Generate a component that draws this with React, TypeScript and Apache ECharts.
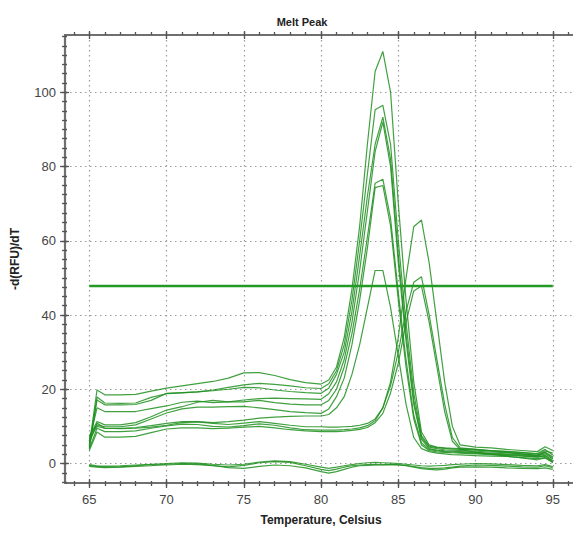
import React, { useEffect, useRef } from "react";
import * as echarts from "echarts";

// ---- data ----
const temps = [65, 65.5, 66, 67, 68, 69, 70, 71, 72, 73, 74, 75, 76, 77, 78, 79, 80, 80.5, 81, 81.5, 82, 82.5, 83, 83.5, 84, 84.5, 85, 85.5, 86, 86.5, 87, 87.5, 88, 88.5, 89, 90, 91, 92, 93, 94, 94.5, 95];

const well1 = [5, 19.8, 18.5, 18.5, 18.6, 19.5, 20.3, 20.9, 21.5, 22.1, 23, 24.4, 24.5, 23.7, 22.6, 21.8, 21.4, 22.5, 26, 34, 47, 64, 86, 105.6, 111, 100, 70, 44, 22, 8.5, 5, 4.4, 4.2, 4.1, 4, 3.8, 3.5, 3.3, 3, 2.7, 3.8, 2.3];
const well2 = [4.5, 17.9, 16.3, 16.2, 16.3, 17.8, 18.8, 19, 19.3, 19.8, 20.5, 21.2, 21.6, 21.3, 20.9, 20.4, 20.2, 21.5, 25, 32, 44, 60, 78, 95.3, 96.5, 86, 60, 38, 19, 7.5, 4.7, 4.3, 4.1, 3.9, 3.8, 3.6, 3.4, 3.2, 2.9, 2.5, 3.4, 2.8];
const well3 = [4, 17.1, 15.8, 15.8, 15.9, 17, 18.9, 19.1, 19.3, 19.6, 20, 20.5, 20.4, 19.8, 19.4, 19.1, 18.9, 20.3, 24, 30, 41, 56, 72, 86, 93.3, 82, 56, 35, 17, 7, 4.4, 4, 3.7, 3.6, 3.5, 3.3, 3.1, 2.9, 2.6, 2.2, 3, 1.5];
const well4 = [6, 15, 14, 14, 14, 14.8, 15.5, 16.5, 16.8, 16.4, 16.6, 17.1, 17.5, 17.6, 17.5, 17.4, 17.3, 18.8, 22, 28, 38, 52, 68, 84, 92, 80, 54, 33, 16, 6.5, 4, 3.6, 3.4, 3.3, 3.2, 3, 2.8, 2.6, 2.3, 2, 2.6, 1.2];
const well5 = [7, 11.3, 10.4, 10.4, 11, 12.6, 14.4, 15.3, 16.5, 17, 16.6, 16.6, 17, 16.4, 16, 15.8, 15.8, 17, 20, 26, 35, 47, 61, 75.5, 76.6, 66, 46, 28, 13, 5.5, 3.8, 3.4, 3.2, 3.1, 3, 2.8, 2.6, 2.4, 2.1, 1.8, 2.2, 0.8];
const well6 = [7.5, 10.4, 9.9, 9.9, 10.4, 12, 13.6, 14.7, 15.2, 15.2, 15.3, 15.4, 15, 14.5, 14, 13.7, 13.5, 14.7, 18, 23, 32, 44, 58, 74.3, 74.9, 64, 44, 26, 12, 5, 3.5, 3.1, 3, 2.9, 2.8, 2.6, 2.4, 2.2, 2, 1.7, 2, 0.5];
const well7 = [5.5, 10.9, 9.5, 9.5, 9.7, 10.2, 10.8, 11.3, 11.3, 11, 11.3, 11.7, 12.2, 12.5, 12.7, 12.8, 12.8, 13.2, 15, 18, 24, 32, 42, 52, 52, 42, 29, 16, 7, 4, 3.2, 2.8, 2.6, 2.4, 2.3, 2.1, 2, 1.9, 1.6, 1.3, 1.6, 0.2];
const well8 = [6.5, 10, 9.5, 9.4, 9.5, 9.8, 10.3, 11, 11.2, 10.8, 10.5, 10.9, 11.3, 10.8, 10.3, 9.9, 9.9, 9.8, 9.8, 9.9, 10, 10.3, 10.8, 12, 15, 22, 34, 50, 63.8, 65.6, 54, 38, 22, 10, 5, 4.4, 4.2, 3.8, 3.5, 3.2, 4.5, 3.5];
const well9 = [4, 9.5, 8.6, 8.6, 8.8, 9.5, 10.1, 10.6, 10.5, 10, 9.8, 10.2, 10.7, 10.3, 9.6, 9.1, 9, 9, 9, 9.1, 9.3, 9.6, 10.2, 11.5, 15, 21, 30, 41, 48.8, 50.3, 40, 28, 16, 7, 4.2, 3.8, 3.4, 3, 2.6, 2.2, 3, 1.8];
const well10 = [3.5, 8.5, 7.1, 7.1, 7.3, 8.3, 9.3, 9.6, 9.6, 9.4, 9.5, 9.8, 10, 9.6, 9.1, 8.8, 8.6, 8.6, 8.6, 8.7, 8.9, 9.2, 9.7, 11, 13.5, 19, 27, 38, 46.5, 47.8, 38, 26, 14, 6, 3.8, 3, 2.5, 2, 1.5, 1, 1.5, 0.5];
const blank1 = [-0.5, -0.8, -0.9, -0.9, -0.6, -0.3, -0.4, -0.2, -0.3, -0.6, -0.9, -0.5, 0.2, 0.5, 0.3, -0.6, -1.6, -1.9, -1.5, -1, -0.6, -0.4, -0.3, -0.3, -0.4, -0.3, -0.3, -0.5, -0.8, -1.1, -1.3, -1.3, -1.2, -1, -0.7, -0.4, -0.5, -0.7, -0.9, -1, -0.6, -1.1];
const blank2 = [-0.8, -1, -1.1, -1, -0.8, -0.6, -0.2, 0, -0.1, -0.5, -1.1, -1.3, -0.8, -0.4, -0.6, -1.2, -2.2, -2.6, -2.2, -1.6, -1, -0.6, -0.5, -0.4, -0.3, -0.3, -0.4, -0.6, -1, -1.4, -1.6, -1.7, -1.5, -1.2, -1, -0.9, -1, -1.2, -1.3, -1.4, -1.2, -1.6];
const blank3 = [-0.3, -0.6, -0.7, -0.6, -0.4, -0.2, 0, 0.2, 0.1, -0.2, -0.4, -0.2, 0.4, 0.7, 0.5, -0.2, -1, -1.3, -1, -0.6, -0.3, 0, 0.2, 0.3, 0.2, 0.1, 0, -0.2, -0.4, -0.6, -0.7, -0.6, -0.5, -0.3, -0.2, 0, -0.1, -0.3, -0.5, -0.6, -0.3, -0.8];

const wells = [well1, well2, well3, well4, well5, well6, well7, well8, well9, well10, blank1, blank2, blank3];
const thresholdTemps = [65, 95];
const thresholdValue = 47.8;

const xTicks = { min: 65, max: 95, step: 5 };
const yTicks = { min: 0, max: 100, step: 20 };

// ---- layout ----
const W = 573;
const H = 534;
const AX_LEFT = 65;      // left axis line
const AX_TOP = 35;       // top axis line
const AX_BOTTOM = 483;   // bottom axis line
const X65 = 89.3;        // pixel of 65 C
const PX_C = 15.45;      // px per degree
const Y0 = 463.5;        // pixel of y=0
const PX_U = 3.712;      // px per unit

const xAt = (px: number) => 65 + (px - X65) / PX_C;
const yAt = (py: number) => (Y0 - py) / PX_U;
const pxX = (v: number) => X65 + (v - 65) * PX_C;
const pyY = (v: number) => Y0 - v * PX_U;

const FONT = "'Liberation Sans', Arial, sans-serif";
const LINE_COLOR = "#1f8f1f";
const AXIS_COLOR = "#6f6f6f";
const TICK_COLOR = "#555";

export default function App() {
  const ref = useRef<HTMLDivElement>(null);

  useEffect(() => {
    if (!ref.current) return;
    const chart = echarts.init(ref.current, null, { renderer: "svg" });

    const hiddenAxis = (gridIndex: number) => ({ type: "value", gridIndex, show: false, min: 0, max: 1 });

    const xGridMaj = { left: X65, right: W - pxX(xTicks.max), top: AX_TOP, bottom: H - AX_BOTTOM };
    const xGridMin = { left: pxX(64), right: W - pxX(96), top: AX_TOP, bottom: H - AX_BOTTOM };
    const yGridMaj = { left: AX_LEFT, right: 0, top: pyY(yTicks.max), bottom: H - pyY(yTicks.min) };
    const yGridMin = { left: AX_LEFT, right: 0, top: pyY(115), bottom: H - pyY(-5) };

    const xTickAxis = (gridIndex: number, position: string, inside: boolean, length: number, min: number, max: number, interval: number, extra: any = {}) => ({
      type: "value", gridIndex, position, min, max, interval,
      axisLine: { show: false, onZero: false },
      axisTick: { show: true, inside, length, lineStyle: { color: TICK_COLOR, width: 1.3 } },
      axisLabel: { show: false },
      splitLine: { show: false },
      ...extra,
    });
    const yTickAxis = (gridIndex: number, inside: boolean, length: number, min: number, max: number, interval: number, extra: any = {}) => ({
      type: "value", gridIndex, position: "left", min, max, interval,
      axisLine: { show: false, onZero: false },
      axisTick: { show: true, inside, length, lineStyle: { color: TICK_COLOR, width: 1.3 } },
      axisLabel: { show: false },
      splitLine: { show: false },
      ...extra,
    });

    const dotted = { show: true, lineStyle: { color: "#9a9a9a", width: 1.2, type: [1.5, 3.5] } };

    const series: any[] = wells.map((vals, i) => ({
      type: "line",
      name: "well" + (i + 1),
      xAxisIndex: 0,
      yAxisIndex: 0,
      data: temps.map((t, k) => [t, vals[k]]),
      showSymbol: false,
      silent: true,
      lineStyle: { color: LINE_COLOR, width: 1.2, opacity: 0.85 },
    }));
    series.push({
      type: "line",
      name: "threshold",
      xAxisIndex: 0,
      yAxisIndex: 0,
      data: thresholdTemps.map((t) => [t, thresholdValue]),
      showSymbol: false,
      silent: true,
      lineStyle: { color: "#239a23", width: 2.4 },
    });

    chart.setOption({
      animation: false,
      backgroundColor: "#ffffff",
      title: {
        text: "Melt Peak",
        left: 297,
        textAlign: "center",
        top: 11,
        textStyle: { fontFamily: FONT, fontSize: 11, fontWeight: "bold", color: "#222" },
      },
      grid: [
        { left: AX_LEFT, right: 0, top: AX_TOP, bottom: H - AX_BOTTOM },
        xGridMaj,
        xGridMin,
        yGridMaj,
        yGridMin,
      ],
      xAxis: [
        {
          type: "value", gridIndex: 0, position: "bottom",
          min: xAt(AX_LEFT), max: xAt(W),
          axisLine: { show: true, onZero: false, lineStyle: { color: AXIS_COLOR, width: 2.2 } },
          axisTick: { show: false }, axisLabel: { show: false }, splitLine: { show: false },
        },
        {
          type: "value", gridIndex: 0, position: "top",
          min: xAt(AX_LEFT), max: xAt(W),
          axisLine: { show: true, onZero: false, lineStyle: { color: AXIS_COLOR, width: 2.2 } },
          axisTick: { show: false }, axisLabel: { show: false }, splitLine: { show: false },
        },
        xTickAxis(1, "bottom", false, 5, xTicks.min, xTicks.max, xTicks.step, {
          axisLabel: { show: true, color: "#444", fontFamily: FONT, fontSize: 13, margin: 10 },
          splitLine: dotted,
          name: "Temperature, Celsius",
          nameLocation: "middle",
          nameGap: 31,
          nameTextStyle: { fontFamily: FONT, fontSize: 12, fontWeight: "bold", color: "#222" },
        }),
        xTickAxis(1, "bottom", true, 4, xTicks.min, xTicks.max, xTicks.step),
        xTickAxis(1, "top", false, 4, xTicks.min, xTicks.max, xTicks.step),
        xTickAxis(1, "top", true, 4, xTicks.min, xTicks.max, xTicks.step),
        xTickAxis(2, "bottom", false, 3, 64, 96, 1),
        xTickAxis(2, "bottom", true, 2, 64, 96, 1),
        xTickAxis(2, "top", false, 3, 64, 96, 1),
        hiddenAxis(3),
        hiddenAxis(4),
      ],
      yAxis: [
        {
          type: "value", gridIndex: 0, position: "left",
          min: yAt(AX_BOTTOM), max: yAt(AX_TOP),
          axisLine: { show: true, onZero: false, lineStyle: { color: AXIS_COLOR, width: 2.2 } },
          axisTick: { show: false }, axisLabel: { show: false }, splitLine: { show: false },
          name: "-d(RFU)/dT",
          nameLocation: "middle",
          nameGap: 44,
          nameTextStyle: { fontFamily: FONT, fontSize: 12, fontWeight: "bold", color: "#222" },
        },
        hiddenAxis(1),
        hiddenAxis(2),
        yTickAxis(3, false, 5, yTicks.min, yTicks.max, yTicks.step, {
          axisLabel: { show: true, color: "#444", fontFamily: FONT, fontSize: 13, margin: 9 },
          splitLine: dotted,
        }),
        yTickAxis(3, true, 4, yTicks.min, yTicks.max, yTicks.step),
        yTickAxis(4, false, 3, -5, 115, 2.5),
        yTickAxis(4, true, 2, -5, 115, 2.5),
      ],
      series,
    });

    return () => chart.dispose();
  }, []);

  return (
    <div
      ref={ref}
      style={{ position: "fixed", left: 0, top: 0, width: W, height: H, background: "#fff" }}
    />
  );
}
